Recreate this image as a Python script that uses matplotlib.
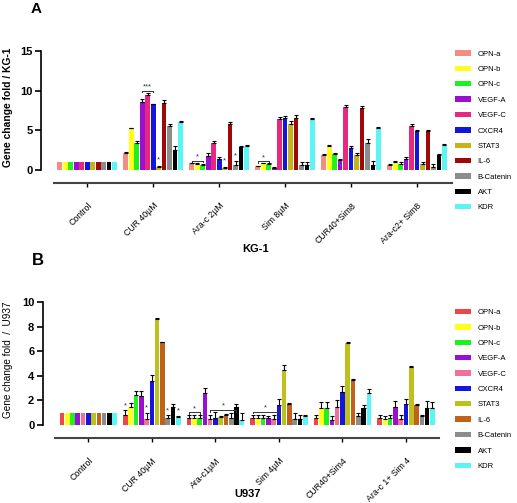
import numpy as np
from matplotlib import pyplot as plt
from matplotlib.patches import Patch

plt.rcParams['font.family'] = ['Liberation Sans', 'DejaVu Sans']

genes_a = ["OPN-a", "OPN-b", "OPN-c", "VEGF-A", "VEGF-C", "CXCR4", "STAT3", "IL-6", "B-Catenin", "AKT", "KDR"]
genes_b = ["OPN-a", "OPN-b", "OPN-c", "VEGF-A", "VEGF-C", "CXCR4", "STAT3", "IL-6", "B-Catenin", "AKT", "KDR"]

groups_a = ["Control", "CUR 40µM", "Ara-c 2µM", "Sim 8µM", "CUR40+Sim8", "Ara-c2+ Sim8"]
groups_b = ["Control", "CUR 40µM", "Ara-c1µM", "Sim 4µM", "CUR40+Sim4", "Ara-c 1+ Sim 4"]

colors_a = ["#F28C84", "#FFFF1A", "#1FF01F", "#9A10D0", "#E8287E", "#1515E0",
            "#C4B41A", "#A00808", "#8C8C8C", "#000000", "#5CF5F5"]
colors_b = ["#EE4646", "#FFFF1A", "#1FF01F", "#9A10D0", "#F07098", "#1515E0",
            "#BFBF1E", "#C0621A", "#8C8C8C", "#000000", "#5CF5F5"]

# KG-1: rows = groups, cols = genes
kg1_mean = [
    [1, 1, 1, 1, 1, 1, 1, 1, 1, 1, 1],
    [2.2, 5.3, 3.4, 8.6, 9.5, 8.3, 0.4, 8.5, 5.5, 2.5, 6.1],
    [0.85, 0.8, 0.7, 1.8, 3.4, 1.4, 0.3, 5.8, 0.6, 2.85, 3.05],
    [0.5, 0.85, 0.75, 0.25, 6.4, 6.6, 5.75, 6.6, 0.6, 0.6, 6.4],
    [1.9, 3.0, 2.0, 1.25, 7.95, 2.8, 1.9, 7.75, 3.45, 0.7, 5.3],
    [0.7, 1.0, 0.8, 1.4, 5.6, 4.9, 0.8, 4.9, 0.4, 1.85, 3.15],
]
kg1_err = [
    [0, 0, 0, 0, 0, 0, 0, 0, 0, 0, 0],
    [0.05, 0.05, 0.3, 0.35, 0.2, 0.05, 0.15, 0.3, 0.3, 0.5, 0.1],
    [0.05, 0.05, 0.1, 0.3, 0.3, 0.2, 0.15, 0.25, 0.5, 0.2, 0.1],
    [0.05, 0.1, 0.1, 0.15, 0.25, 0.25, 0.4, 0.3, 0.4, 0.4, 0.1],
    [0.1, 0.1, 0.1, 0.1, 0.2, 0.2, 0.2, 0.25, 0.4, 0.4, 0.1],
    [0.05, 0.15, 0.2, 0.3, 0.15, 0.1, 0.25, 0.2, 0.35, 0.15, 0.1],
]

# U937
u937_mean = [
    [1, 1, 1, 1, 1, 1, 1, 1, 1, 1, 1],
    [0.8, 1.5, 2.45, 2.4, 0.5, 3.6, 8.65, 6.75, 0.6, 1.5, 0.65],
    [0.6, 0.6, 0.6, 2.6, 0.5, 0.55, 0.65, 0.8, 0.6, 1.45, 0.45],
    [0.6, 0.6, 0.6, 0.55, 0.5, 1.6, 4.5, 1.7, 0.5, 0.5, 0.75],
    [0.6, 1.4, 1.4, 0.4, 1.5, 2.7, 6.65, 3.7, 0.75, 1.35, 2.6],
    [0.55, 0.5, 0.55, 1.45, 0.5, 1.7, 4.7, 1.65, 0.75, 1.35, 1.4],
]
u937_err = [
    [0, 0, 0, 0, 0, 0, 0, 0, 0, 0, 0],
    [0.4, 0.3, 0.3, 0.4, 0.5, 0.5, 0.05, 0.05, 0.2, 0.2, 0.1],
    [0.2, 0.2, 0.2, 0.4, 0.3, 0.5, 0.1, 0.1, 0.4, 0.3, 0.5],
    [0.2, 0.2, 0.2, 0.2, 0.3, 0.5, 0.4, 0.1, 0.5, 0.3, 0.05],
    [0.2, 0.5, 0.5, 0.3, 0.5, 0.5, 0.1, 0.05, 0.2, 0.3, 0.3],
    [0.3, 0.2, 0.3, 0.5, 0.3, 0.4, 0.1, 0.1, 0.05, 0.6, 0.5],
]

# significance marks: (group, first bar, last bar, height, text)
sig_a = [(1, 3, 5, 10.0, "***"), (1, 6, 6, 0.8, "*"),
         (2, 0, 2, 1.2, "*"), (2, 6, 6, 0.7, "*"), (2, 8, 8, 1.3, "*"),
         (3, 0, 2, 1.1, "*")]
sig_b = [(1, 0, 0, 1.3, "*"), (1, 4, 4, 1.1, "*"), (1, 8, 8, 0.9, "*"), (1, 10, 10, 0.9, "*"),
         (2, 0, 2, 1.05, "*"), (2, 4, 9, 1.25, "*"),
         (3, 0, 5, 1.1, "*")]

fig = plt.figure(figsize=(5.17, 5.03), dpi=100)


def draw_panel(rect, means, errs, colors, genes, groups, sig, ymin, ymax, yticks,
               xlim, xspine, ylabel, ybold, ysize, label_x, label_y, legend_top):
    ax = fig.add_axes(rect)
    means = np.array(means)
    errs = np.array(errs)
    n = len(genes)
    step = 0.083
    offs = (np.arange(n) - (n - 1) / 2) * step
    x = np.arange(len(groups))
    for j in range(n):
        ax.bar(x + offs[j], means[:, j], width=0.072, color=colors[j], zorder=2)
        has_err = errs[:, j] > 0
        ax.errorbar((x + offs[j])[has_err], means[has_err, j],
                    yerr=[np.zeros(has_err.sum()), errs[has_err, j]],
                    fmt="none", ecolor="black", elinewidth=0.8, capsize=1.2, capthick=0.8, zorder=3)
    for g, b0, b1, h, t in sig:
        x0 = g + offs[b0]
        x1 = g + offs[b1]
        if b0 != b1:
            ax.plot([x0, x1], [h, h], color="#333333", lw=0.7, zorder=3)
            ax.plot([x0, x0], [h - 0.15 * (ymax / 10), h], color="#333333", lw=0.7)
            ax.plot([x1, x1], [h - 0.15 * (ymax / 10), h], color="#333333", lw=0.7)
        ax.text((x0 + x1) / 2, h, t, ha="center", va="bottom", fontsize=5.5, color="#333333")
    ax.set_ylim(ymin, ymax)
    ax.set_xlim(*xlim)
    ax.spines["top"].set_visible(False)
    ax.spines["right"].set_visible(False)
    ax.spines["left"].set_bounds(0, ymax)
    ax.spines["bottom"].set_bounds(*xspine)
    ax.spines["left"].set_linewidth(1.2)
    ax.spines["bottom"].set_linewidth(1.5)
    ax.spines["bottom"].set_color("#444444")
    ax.set_yticks(yticks)
    ax.set_yticklabels([str(v) for v in yticks], fontsize=8, fontweight="bold")
    ax.tick_params(axis="y", length=4, width=1.2, pad=2)
    ax.set_xticks(x)
    ax.set_xticklabels(groups, rotation=45, ha="right", rotation_mode="anchor", fontsize=6.3)
    ax.tick_params(axis="x", length=3, width=1, pad=10)
    ax.set_ylabel(ylabel, fontsize=ysize, fontweight=ybold)
    ax.yaxis.set_label_coords(label_x, label_y)
    handles = [Patch(facecolor=c, edgecolor="none") for c in colors]
    fig.legend(handles, genes, loc="upper left", bbox_to_anchor=(0.875, legend_top),
               frameon=False, fontsize=5.5, handlelength=2.0, handleheight=0.7,
               labelspacing=1.05, handletextpad=0.9, borderaxespad=0)
    return ax


draw_panel([0.0793, 0.636, 0.795, 0.263], kg1_mean, kg1_err, colors_a, genes_a, groups_a, sig_a,
           -1.63, 15, [0, 5, 10, 15], (-0.70, 5.53), (-0.505, 5.53),
           "Gene change fold / KG-1", "bold", 7.4, -0.068, 0.57, 0.906)
draw_panel([0.0826, 0.1286, 0.7666, 0.2705], u937_mean, u937_err, colors_b, genes_b, groups_b, sig_b,
           -1.08, 10, [0, 2, 4, 6, 8, 10], (-0.718, 5.52), (-0.524, 5.52),
           "Gene change fold  /  U937", "normal", 7.2, -0.074, 0.58, 0.392)

fig.text(0.06, 0.996, "A", fontsize=11, fontweight="bold", va="top")
fig.text(0.495, 0.505, "KG-1", fontsize=8, fontweight="bold", ha="center", va="center")
fig.text(0.062, 0.498, "B", fontsize=12, fontweight="bold", va="top")
fig.text(0.478, 0.018, "U937", fontsize=8, fontweight="bold", ha="center", va="center")

plt.savefig("out.png", dpi=100)
